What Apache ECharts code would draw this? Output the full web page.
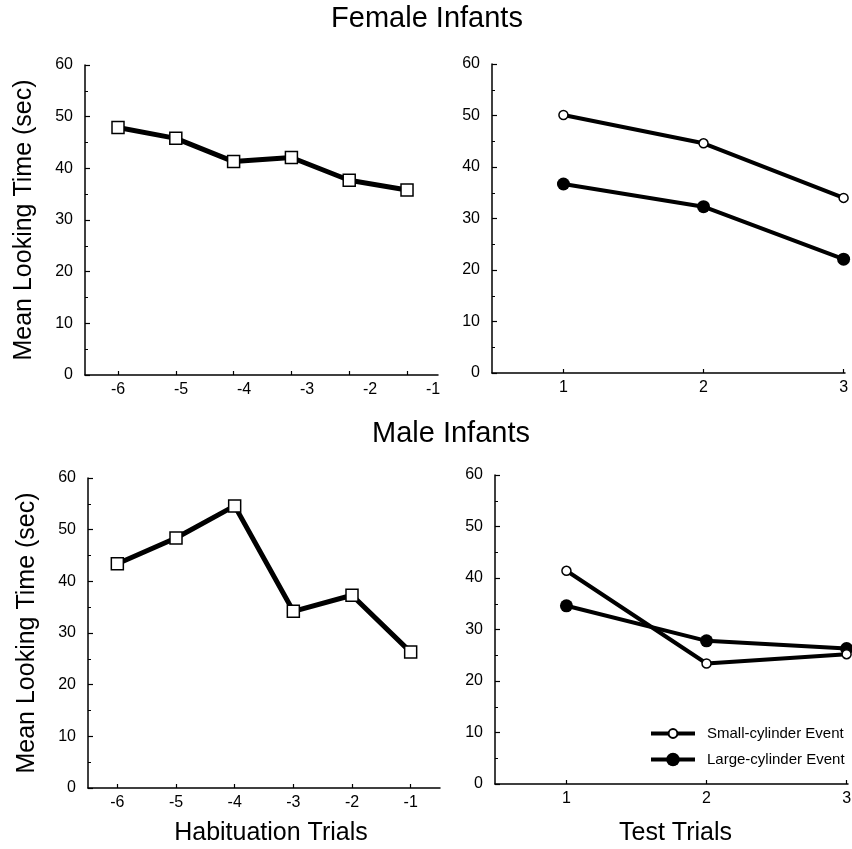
<!DOCTYPE html>
<html>
<head>
<meta charset="utf-8">
<script src="https://cdn.jsdelivr.net/npm/echarts@6/dist/echarts.min.js"></script>
<style>
  html, body { margin: 0; background: #fff; }
  #chart { width: 852px; height: 849px; }
</style>
</head>
<body>
<div id="chart"></div>
<script>
const habTrials = [-6, -5, -4, -3, -2, -1];
const testTrials = [1, 2, 3];

const femaleHab = [47.9, 45.8, 41.3, 42.1, 37.7, 35.8];
const maleHab = [43.4, 48.4, 54.6, 34.2, 37.3, 26.3];

const femaleSmall = [50.1, 44.6, 34.0];
const femaleLarge = [36.7, 32.3, 22.1];
const maleSmall = [41.4, 23.4, 25.2];
const maleLarge = [34.6, 27.8, 26.3];

const seriesNames = ['Small-cylinder Event', 'Large-cylinder Event'];

const font = '"Liberation Sans", Arial, Helvetica, sans-serif';
const black = '#000';

const pairs = (xs, ys) => xs.map((x, i) => [x, ys[i]]);

function yAxisFor(gridIndex, name) {
  return {
    type: 'value',
    gridIndex,
    min: 0,
    max: 60,
    interval: 10,
    name,
    nameLocation: 'middle',
    nameRotate: 90,
    nameGap: 48,
    nameTextStyle: { fontSize: 25, color: black, fontFamily: font },
    axisLine: { show: true, lineStyle: { color: black, width: 1.5 } },
    axisTick: { show: true, inside: true, length: 5, lineStyle: { color: black, width: 1.2 } },
    minorTick: { show: true, splitNumber: 2, length: 3, lineStyle: { color: black, width: 1 } },
    axisLabel: { margin: 12, fontSize: 16, color: black, fontFamily: font },
    splitLine: { show: false },
  };
}

function xAxisFor(gridIndex, min, max, ticks, opts = {}) {
  return {
    type: 'value',
    gridIndex,
    position: 'bottom',
    min,
    max,
    axisLine: { show: true, onZero: false, lineStyle: { color: black, width: 1.5 } },
    axisTick: { show: true, inside: true, length: 4, customValues: ticks, lineStyle: { color: black, width: 1.2 } },
    axisLabel: { show: true, customValues: ticks, margin: 7, fontSize: 16, color: black, fontFamily: font },
    splitLine: { show: false },
    ...opts,
  };
}

const squareSeries = (xIdx, yIdx, data) => ({
  type: 'line',
  xAxisIndex: xIdx,
  yAxisIndex: yIdx,
  data,
  symbol: 'rect',
  symbolSize: 12,
  clip: false,
  lineStyle: { color: black, width: 5 },
  itemStyle: { color: '#fff', borderColor: black, borderWidth: 1.5 },
  z: 3,
});

const smallSeries = (xIdx, yIdx, data) => ({
  name: seriesNames[0],
  type: 'line',
  xAxisIndex: xIdx,
  yAxisIndex: yIdx,
  data,
  symbol: 'circle',
  symbolSize: 9,
  clip: false,
  lineStyle: { color: black, width: 4 },
  itemStyle: { color: '#fff', borderColor: black, borderWidth: 1.5 },
  z: 4,
});

const largeSeries = (xIdx, yIdx, data) => ({
  name: seriesNames[1],
  type: 'line',
  xAxisIndex: xIdx,
  yAxisIndex: yIdx,
  data,
  symbol: 'circle',
  symbolSize: 13,
  clip: false,
  lineStyle: { color: black, width: 4 },
  itemStyle: { color: black, borderColor: black, borderWidth: 0 },
  z: 3,
});

const legendFor = (name, top, itemHeight) => ({
  data: [name],
  orient: 'vertical',
  left: 649,
  top,
  padding: 0,
  itemWidth: 44,
  itemHeight,
  selectedMode: false,
  lineStyle: { width: 4, color: black },
  textStyle: { fontSize: 15, color: black, fontFamily: font, padding: [0, 0, 0, 7] },
});

const chart = echarts.init(document.getElementById('chart'));

chart.setOption({
  animation: false,
  backgroundColor: '#fff',
  textStyle: { fontFamily: font, color: black },
  grid: [
    { left: 85, top: 65, width: 353, height: 310, outerBoundsMode: 'none' },
    { left: 492, top: 64, width: 353, height: 309, outerBoundsMode: 'none' },
    { left: 88, top: 478, width: 352, height: 310, outerBoundsMode: 'none' },
    { left: 495, top: 475, width: 353, height: 309, outerBoundsMode: 'none' },
  ],
  xAxis: [
    // female habituation: ticks only, labels come from the last axis
    xAxisFor(0, -6.571, -0.464, habTrials, { axisLabel: { show: false } }),
    xAxisFor(1, 0.49, 3.01, testTrials),
    xAxisFor(2, -6.5, -0.5, habTrials, {
      name: 'Habituation Trials',
      nameLocation: 'middle',
      nameGap: 33,
      nameTextStyle: { fontSize: 25, color: black, fontFamily: font, padding: [0, 0, 0, 14] },
    }),
    xAxisFor(3, 0.49, 3.01, testTrials, {
      name: 'Test Trials',
      nameLocation: 'middle',
      nameGap: 37,
      nameTextStyle: { fontSize: 25, color: black, fontFamily: font, padding: [0, 0, 0, 8] },
    }),
    // female habituation labels, printed slightly offset from the ticks
    {
      type: 'value',
      gridIndex: 0,
      position: 'bottom',
      min: -6.524,
      max: -0.921,
      axisLine: { show: false },
      axisTick: { show: false },
      axisLabel: { customValues: habTrials, margin: 7, fontSize: 16, color: black, fontFamily: font },
      splitLine: { show: false },
    },
  ],
  yAxis: [
    yAxisFor(0, 'Mean Looking Time (sec)'),
    yAxisFor(1, ''),
    yAxisFor(2, 'Mean Looking Time (sec)'),
    yAxisFor(3, ''),
  ],
  legend: [
    legendFor(seriesNames[0], 726, 11),
    legendFor(seriesNames[1], 752, 17),
  ],
  graphic: [
    { type: 'text', x: 427, y: 19, style: { text: 'Female Infants', font: '29px ' + font, fill: black, align: 'center', verticalAlign: 'middle' } },
    { type: 'text', x: 451, y: 434, style: { text: 'Male Infants', font: '29px ' + font, fill: black, align: 'center', verticalAlign: 'middle' } },
  ],
  series: [
    squareSeries(0, 0, pairs(habTrials, femaleHab)),
    smallSeries(1, 1, pairs(testTrials, femaleSmall)),
    largeSeries(1, 1, pairs(testTrials, femaleLarge)),
    squareSeries(2, 2, pairs(habTrials, maleHab)),
    smallSeries(3, 3, pairs(testTrials, maleSmall)),
    largeSeries(3, 3, pairs(testTrials, maleLarge)),
  ],
});
</script>
</body>
</html>
